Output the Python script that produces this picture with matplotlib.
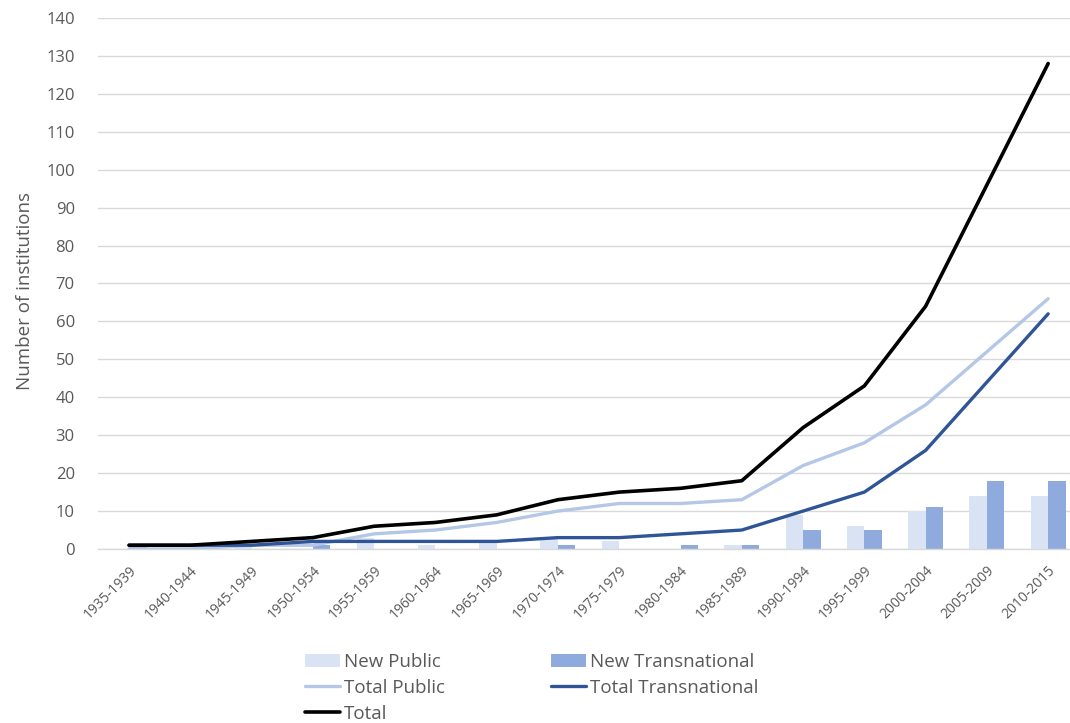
import matplotlib
matplotlib.use("Agg")
import matplotlib.pyplot as plt
import numpy as np

# Five-year periods
periods = ["1935-1939", "1940-1944", "1945-1949", "1950-1954", "1955-1959",
           "1960-1964", "1965-1969", "1970-1974", "1975-1979", "1980-1984",
           "1985-1989", "1990-1994", "1995-1999", "2000-2004", "2005-2009",
           "2010-2015"]

# Institutions founded in each period
new_public = [0, 0, 1, 0, 3, 1, 2, 3, 2, 0, 1, 9, 6, 10, 14, 14]
new_transnational = [1, 0, 0, 1, 0, 0, 0, 1, 0, 1, 1, 5, 5, 11, 18, 18]

# Cumulative counts
total_public = [0, 0, 1, 1, 4, 5, 7, 10, 12, 12, 13, 22, 28, 38, 52, 66]
total_transnational = [1, 1, 1, 2, 2, 2, 2, 3, 3, 4, 5, 10, 15, 26, 44, 62]
total = [1, 1, 2, 3, 6, 7, 9, 13, 15, 16, 18, 32, 43, 64, 96, 128]

y_ticks = list(range(0, 141, 10))

plt.rcParams["font.family"] = ["Open Sans", "DejaVu Sans"]
text_color = "#595959"

fig = plt.figure(figsize=(10.70, 7.23), dpi=100)
ax = fig.add_axes([98.4 / 1070, 174 / 723, 980.4 / 1070, 531 / 723])

x = np.arange(len(periods))
bw = 0.285
ax.bar(x - bw / 2, new_public, width=bw, color="#DAE3F3", label="New Public", zorder=2)
ax.bar(x + bw / 2, new_transnational, width=bw, color="#8FAADC", label="New Transnational", zorder=2)

ax.plot(x, total_public, color="#B4C7E7", lw=2.4, label="Total Public", zorder=3,
        solid_joinstyle="round", solid_capstyle="round")
ax.plot(x, total_transnational, color="#2F5597", lw=2.4, label="Total Transnational", zorder=4,
        solid_joinstyle="round", solid_capstyle="round")
ax.plot(x, total, color="black", lw=2.6, label="Total", zorder=5,
        solid_joinstyle="round", solid_capstyle="round")

ax.set_xlim(-0.5, len(periods) - 0.5)
ax.set_ylim(0, 140)
ax.set_yticks(y_ticks)
ax.yaxis.grid(True, color="#D9D9D9", lw=1, zorder=0)
ax.set_axisbelow(True)
for s in ["top", "right", "left"]:
    ax.spines[s].set_visible(False)
ax.spines["bottom"].set_color("#D9D9D9")
ax.spines["bottom"].set_linewidth(1)

ax.tick_params(axis="y", length=0, pad=17, labelsize=12, labelcolor=text_color)
ax.tick_params(axis="x", length=0, pad=10, labelcolor=text_color)
ax.set_xticks(x)
ax.set_xticklabels(periods, rotation=45, ha="right", va="top",
                   rotation_mode="anchor", fontsize=10)

ax.set_ylabel("Number of institutions", fontsize=13.5, color=text_color)
ax.yaxis.set_label_coords((34 - 98.4) / 980.4, 0.486)

handles, labels = ax.get_legend_handles_labels()
lookup = dict(zip(labels, handles))
order = ["New Public", "Total Public", "Total", "New Transnational", "Total Transnational"]
leg = fig.legend([lookup[k] for k in order], order, ncol=2, loc="upper left",
                 bbox_to_anchor=(305 / 1070, 1 - 653 / 723), frameon=False,
                 fontsize=13.5, borderpad=0, borderaxespad=0,
                 handlelength=1.87, handletextpad=0.21,
                 labelspacing=0.42, columnspacing=5.65)
for t in leg.get_texts():
    t.set_color(text_color)

fig.savefig("out.png", dpi=100)
